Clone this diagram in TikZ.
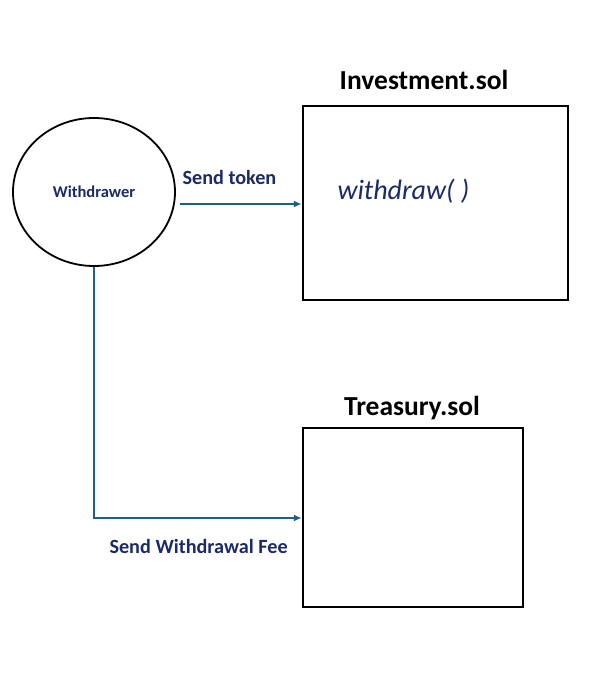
\documentclass[tikz,border=0pt]{standalone}
\usepackage{fontspec}
\setmainfont{Carlito}
\usepackage{tikz}
\usetikzlibrary{shapes.geometric,arrows.meta}

\definecolor{navytext}{HTML}{1B2A68}
\definecolor{flowblue}{HTML}{1F5F85}

\tikzset{
  contract/.style={draw=black, line width=2.4pt, inner sep=0pt},
  title/.style={font=\bfseries\fontsize{27.5}{30}\selectfont, text=black},
  flowlabel/.style={font=\bfseries\fontsize{20.2}{24}\selectfont, text=navytext},
  flow/.style={draw=flowblue, line width=1.8pt, -{Latex[length=8pt,width=7pt]}}
}

\begin{document}
\begin{tikzpicture}[x=1pt, y=-1pt]
    \useasboundingbox (0,0) rectangle (615,674);% Same frame as the picture

    % The user
    \node[draw, ellipse, line width=1.8pt, minimum width=162pt, minimum height=148pt,
          font=\bfseries\fontsize{16.5}{18}\selectfont, text=navytext]
          (Withdrawer) at (94,192) {Withdrawer};

    % The two contracts
    \node[contract, minimum width=265pt, minimum height=194pt] (Investment) at (435.5,203) {};
    \node[contract, minimum width=220pt, minimum height=179pt] (Treasury) at (413,517.5) {};
    \node[title] (InvestmentTitle) at (424,80) {Investment.sol};
    \node[title] (TreasuryTitle) at (412,408) {Treasury.sol};
    \node[font=\itshape\fontsize{28}{30}\selectfont, text=navytext, anchor=west]
          (withdrawCall) at (334,191) {withdraw( )};

    % Flows
    \coordinate (TokenStart) at (180,204);
    \coordinate (FeeCorner) at (94,518);
    \draw[flow] (TokenStart) -- (TokenStart -| Investment.west);
    \draw[flow] (Withdrawer.south) -- (FeeCorner) -- (FeeCorner -| Treasury.west);
    \node[flowlabel, anchor=west] (TokenLabel) at (179,177) {Send token};
    \node[flowlabel, anchor=west] (FeeLabel) at (106,546) {Send Withdrawal Fee};
\end{tikzpicture}
\end{document}
